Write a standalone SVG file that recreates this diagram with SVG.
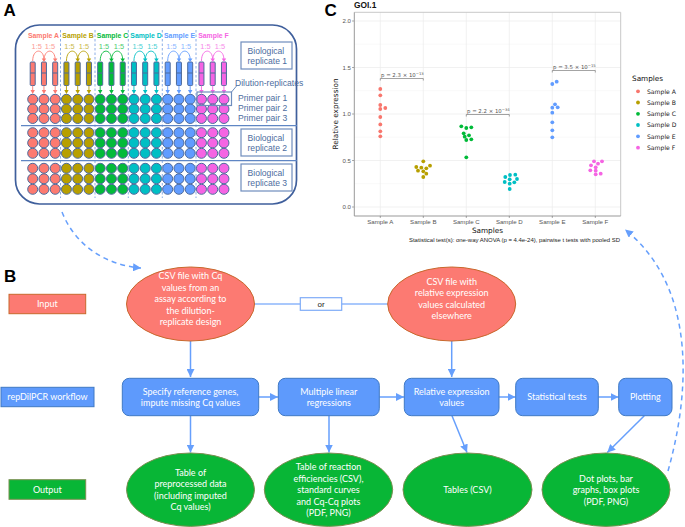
<svg xmlns="http://www.w3.org/2000/svg" xmlns:xlink="http://www.w3.org/1999/xlink" width="685" height="527" viewBox="0 0 685 527">
<style>
text{font-family:"Liberation Sans",Arial,sans-serif}
.let{font-size:17px;font-weight:bold;fill:#000}
.sl{font-size:6.9px;font-weight:bold;text-anchor:middle}
.dl{font-size:7.4px;text-anchor:middle;opacity:.75}
.rep{font-size:8.6px;fill:#4d6da0}
.w{stroke:#4d6a9c;stroke-width:1}
.sep{stroke:#6f9ae0;stroke-width:.8;stroke-dasharray:2.5 2;fill:none}
.div{stroke:#5f86c4;stroke-width:1.3}
.repbox{fill:#fff;stroke:#6f8dbd;stroke-width:1.2}
.fl{font-family:Lato,"Open Sans",sans-serif;font-size:9px;fill:#fff;text-anchor:middle}
.in{fill:#fc7a72;stroke:#c8682c;stroke-width:1}
.wf{fill:#5e9afc;stroke:#3f79c4;stroke-width:1}
.ou{fill:#08b636;stroke:#7a8f50;stroke-width:1}
.con{stroke:#669ffc;stroke-width:1.5;fill:none}
.dash{stroke:#669ffc;stroke-width:1.5;fill:none;stroke-dasharray:5 4}
.gr{stroke:#ebebeb;stroke-width:.7}
.gr2{stroke:#f3f3f3;stroke-width:.5}
.tk{font-family:"DejaVu Sans",sans-serif;font-size:6.1px;fill:#555}
.ax{font-family:"DejaVu Sans",sans-serif;font-size:7.3px;fill:#111}
.br{stroke:#666;stroke-width:.6;fill:none}
.pv{font-family:"DejaVu Sans",sans-serif;font-size:5.4px;fill:#555}
.leg{font-family:"DejaVu Sans",sans-serif;font-size:6.1px;fill:#222}
</style>
<defs>
<marker id="ah" markerUnits="userSpaceOnUse" markerWidth="9" markerHeight="8" refX="8" refY="4" orient="auto"><path d="M0,0L8,4L0,8Z" fill="#669ffc"/></marker>
<g id="block" class="w">
<circle cx="0" cy="99.3" r="5"/><circle cx="11.25" cy="99.3" r="5"/><circle cx="22.5" cy="99.3" r="5"/>
<circle cx="0" cy="109" r="5"/><circle cx="11.25" cy="109" r="5"/><circle cx="22.5" cy="109" r="5"/>
<circle cx="0" cy="118.5" r="5"/><circle cx="11.25" cy="118.5" r="5"/><circle cx="22.5" cy="118.5" r="5"/>
<circle cx="0" cy="132.7" r="5"/><circle cx="11.25" cy="132.7" r="5"/><circle cx="22.5" cy="132.7" r="5"/>
<circle cx="0" cy="142.9" r="5"/><circle cx="11.25" cy="142.9" r="5"/><circle cx="22.5" cy="142.9" r="5"/>
<circle cx="0" cy="153.3" r="5"/><circle cx="11.25" cy="153.3" r="5"/><circle cx="22.5" cy="153.3" r="5"/>
<circle cx="0" cy="168.3" r="5"/><circle cx="11.25" cy="168.3" r="5"/><circle cx="22.5" cy="168.3" r="5"/>
<circle cx="0" cy="178.8" r="5"/><circle cx="11.25" cy="178.8" r="5"/><circle cx="22.5" cy="178.8" r="5"/>
<circle cx="0" cy="189.3" r="5"/><circle cx="11.25" cy="189.3" r="5"/><circle cx="22.5" cy="189.3" r="5"/>
</g>
<g id="tubes">
<g fill="currentColor" stroke="#4d6a9c" stroke-width="1">
<rect x="-2.5" y="62" width="5" height="23.5" rx="1"/><path d="M-2.5,73H2.5"/>
<rect x="8.75" y="62" width="5" height="23.5" rx="1"/><path d="M8.75,73H13.75"/>
<rect x="20" y="62" width="5" height="23.5" rx="1"/><path d="M20,73H25"/>
</g>
<g fill="none" stroke="currentColor" stroke-width=".9">
<path d="M0,61C0,48 11.25,48 11.25,60"/><path d="M11.25,61C11.25,48 22.5,48 22.5,60"/>
<path d="M0,85.5V91M11.25,85.5V91M22.5,85.5V91"/>
</g>
<path fill="currentColor" d="M9,58.5H13.5L11.25,62ZM20.25,58.5H24.75L22.5,62ZM-2.2,90H2.2L0,94ZM9,90H13.5L11.25,94ZM20.25,90H24.75L22.5,94Z"/>
</g>
<circle id="pt" r="1.9"/>
</defs>
<rect width="685" height="527" fill="#fff"/>

<g id="panel-a">
<text class="let" x="3.5" y="15.5">A</text>
<rect x="15.5" y="25" width="281" height="179" rx="24" fill="none" stroke="#3f5f9c" stroke-width="1.7"/>
<path class="sep" d="M60.5,30V198M95,30V198M128.3,30V198M162.3,30V198M196,30V198"/>
<g id="plate">
<use xlink:href="#block" x="32.7" fill="#fc7a70"/>
<use xlink:href="#block" x="66.45" fill="#b79f00"/>
<use xlink:href="#block" x="100.2" fill="#04ba3a"/>
<use xlink:href="#block" x="133.95" fill="#00bfc4"/>
<use xlink:href="#block" x="167.7" fill="#619cff"/>
<use xlink:href="#block" x="201.45" fill="#f564e3"/>
</g>
<use xlink:href="#tubes" x="32.7" color="#fc7a70"/>
<use xlink:href="#tubes" x="66.45" color="#b79f00"/>
<use xlink:href="#tubes" x="100.2" color="#04ba3a"/>
<use xlink:href="#tubes" x="133.95" color="#00bfc4"/>
<use xlink:href="#tubes" x="167.7" color="#619cff"/>
<use xlink:href="#tubes" x="201.45" color="#f564e3"/>
<path class="div" d="M21,125.7H297M21,160.7H297"/>
<text class="sl" x="43.5" y="38" fill="#fc7a70">Sample A</text>
<text class="sl" x="78" y="38" fill="#b79f00">Sample B</text>
<text class="sl" x="112.5" y="38" fill="#04ba3a">Sample C</text>
<text class="sl" x="146" y="38" fill="#00bfc4">Sample D</text>
<text class="sl" x="179.5" y="38" fill="#619cff">Sample E</text>
<text class="sl" x="213.5" y="38" fill="#f564e3">Sample F</text>
<text class="dl" x="36.7" y="49" fill="#fc7a70">1:5</text><text class="dl" x="50" y="49" fill="#fc7a70">1:5</text>
<text class="dl" x="69.5" y="49" fill="#b79f00">1:5</text><text class="dl" x="84" y="49" fill="#b79f00">1:5</text>
<text class="dl" x="104" y="49" fill="#04ba3a">1:5</text><text class="dl" x="119" y="49" fill="#04ba3a">1:5</text>
<text class="dl" x="137.7" y="49" fill="#00bfc4">1:5</text><text class="dl" x="152.3" y="49" fill="#00bfc4">1:5</text>
<text class="dl" x="171.5" y="49" fill="#619cff">1:5</text><text class="dl" x="186" y="49" fill="#619cff">1:5</text>
<text class="dl" x="205.5" y="49" fill="#f564e3">1:5</text><text class="dl" x="220" y="49" fill="#f564e3">1:5</text>
<rect x="197" y="92" width="34.5" height="13.5" fill="none" stroke="#6f8dbd" stroke-width="1.2"/>
<path d="M231.5,92L236.5,86" stroke="#6f8dbd" fill="none"/>
<g id="rep1"><rect class="repbox" x="241" y="42" width="51" height="27"/><text class="rep" x="247.5" y="53.5">Biological</text><text class="rep" x="247.5" y="64">replicate 1</text></g>
<g id="rep2"><rect class="repbox" x="241" y="129" width="51" height="27"/><text class="rep" x="247.5" y="140.5">Biological</text><text class="rep" x="247.5" y="151">replicate 2</text></g>
<g id="rep3"><rect class="repbox" x="241" y="164" width="51" height="27"/><text class="rep" x="247.5" y="175.5">Biological</text><text class="rep" x="247.5" y="186">replicate 3</text></g>
<text class="rep" x="235" y="86">Dilution-replicates</text>
<text class="rep" x="238" y="101">Primer pair 1</text>
<text class="rep" x="238" y="111">Primer pair 2</text>
<text class="rep" x="238" y="120.5">Primer pair 3</text>
</g>

<g id="panel-c">
<text class="let" x="324.5" y="16">C</text>
<text x="354" y="8.2" font-family="DejaVu Sans,sans-serif" font-size="8.4" font-weight="bold" fill="#111">GOI.1</text>
<path class="gr2" d="M354,44.2H621M354,90.7H621M354,137.2H621M354,183.7H621"/>
<path class="gr" d="M354,21H621M354,67.5H621M354,114H621M354,160.5H621M354,207H621M380.3,12V216M423.3,12V216M466.3,12V216M509.3,12V216M552.3,12V216M595.3,12V216"/>
<path d="M354.3,12.3H620.7V216" fill="none" stroke="#c8c8c8" stroke-width="1"/>
<path d="M354.3,12.3V216H620.7" fill="none" stroke="#999" stroke-width="1"/>
<path d="M352,21H354M352,67.5H354M352,114H354M352,160.5H354M352,207H354M380.3,216V218M423.3,216V218M466.3,216V218M509.3,216V218M552.3,216V218M595.3,216V218" stroke="#555" stroke-width=".5"/>
<g class="tk" text-anchor="end"><text x="351" y="23.2">2.0</text><text x="351" y="69.7">1.5</text><text x="351" y="116.2">1.0</text><text x="351" y="162.7">0.5</text><text x="351" y="209.2">0.0</text></g>
<g class="tk" text-anchor="middle"><text x="380.3" y="224">Sample A</text><text x="423.3" y="224">Sample B</text><text x="466.3" y="224">Sample C</text><text x="509.3" y="224">Sample D</text><text x="552.3" y="224">Sample E</text><text x="595.3" y="224">Sample F</text></g>
<text class="ax" x="487.5" y="232.5" text-anchor="middle">Samples</text>
<text class="ax" transform="translate(338,114) rotate(-90)" text-anchor="middle">Relative expression</text>
<text x="409" y="241.5" font-family="DejaVu Sans,sans-serif" font-size="4.9" fill="#222" textLength="211" lengthAdjust="spacingAndGlyphs">Statistical test(s): one-way ANOVA (p = 4.4e-24), pairwise t tests with pooled SD</text>
<path class="br" d="M380.3,80.5V78.5H423.3V80.5M466.3,116.5V114.5H509.3V116.5M552.3,72.5V70.5H595.3V72.5"/>
<text class="pv" x="381" y="76.5">p = 2.3 × 10<tspan font-size="3.8" dy="-1.8">−13</tspan></text>
<text class="pv" x="467" y="113">p = 2.2 × 10<tspan font-size="3.8" dy="-1.8">−34</tspan></text>
<text class="pv" x="553" y="69">p = 3.5 × 10<tspan font-size="3.8" dy="-1.8">−15</tspan></text>
<g fill="#f8766d"><use xlink:href="#pt" x="380.3" y="89"/><use xlink:href="#pt" x="380.3" y="95.3"/><use xlink:href="#pt" x="380.3" y="105"/><use xlink:href="#pt" x="380.3" y="109"/><use xlink:href="#pt" x="385.3" y="108"/><use xlink:href="#pt" x="380.3" y="117"/><use xlink:href="#pt" x="380.3" y="124.4"/><use xlink:href="#pt" x="380.3" y="131.3"/><use xlink:href="#pt" x="380.3" y="136.3"/></g>
<g fill="#b79f00"><use xlink:href="#pt" x="423.3" y="161.3"/><use xlink:href="#pt" x="416.3" y="167"/><use xlink:href="#pt" x="418" y="170.7"/><use xlink:href="#pt" x="421.3" y="167.7"/><use xlink:href="#pt" x="423.3" y="171.3"/><use xlink:href="#pt" x="426.3" y="168.3"/><use xlink:href="#pt" x="430" y="165.7"/><use xlink:href="#pt" x="426.3" y="173.7"/><use xlink:href="#pt" x="423.3" y="177"/></g>
<g fill="#00ba38"><use xlink:href="#pt" x="461.3" y="126.3"/><use xlink:href="#pt" x="466.3" y="128"/><use xlink:href="#pt" x="471.3" y="127.3"/><use xlink:href="#pt" x="463.7" y="133.3"/><use xlink:href="#pt" x="469" y="135.3"/><use xlink:href="#pt" x="464.7" y="136.7"/><use xlink:href="#pt" x="466.3" y="140"/><use xlink:href="#pt" x="471.3" y="139.3"/><use xlink:href="#pt" x="466.3" y="157.3"/></g>
<g fill="#00bfc4"><use xlink:href="#pt" x="510" y="175"/><use xlink:href="#pt" x="515.3" y="174.7"/><use xlink:href="#pt" x="505.3" y="177"/><use xlink:href="#pt" x="509.7" y="179.3"/><use xlink:href="#pt" x="517" y="179"/><use xlink:href="#pt" x="504.7" y="182"/><use xlink:href="#pt" x="514.3" y="182.3"/><use xlink:href="#pt" x="509.7" y="183.7"/><use xlink:href="#pt" x="509.7" y="189"/></g>
<g fill="#619cff"><use xlink:href="#pt" x="556.7" y="81.7"/><use xlink:href="#pt" x="552.3" y="84"/><use xlink:href="#pt" x="555" y="104.3"/><use xlink:href="#pt" x="552.3" y="107.7"/><use xlink:href="#pt" x="557.7" y="107.3"/><use xlink:href="#pt" x="552.3" y="112.7"/><use xlink:href="#pt" x="552.3" y="122.3"/><use xlink:href="#pt" x="552.3" y="130.3"/><use xlink:href="#pt" x="552.3" y="137.3"/></g>
<g fill="#f564e3"><use xlink:href="#pt" x="594" y="161.3"/><use xlink:href="#pt" x="602" y="161.3"/><use xlink:href="#pt" x="598" y="163.7"/><use xlink:href="#pt" x="591" y="165.3"/><use xlink:href="#pt" x="595.7" y="167.3"/><use xlink:href="#pt" x="590.3" y="170.3"/><use xlink:href="#pt" x="595.7" y="170.7"/><use xlink:href="#pt" x="595.7" y="174.3"/><use xlink:href="#pt" x="600.7" y="173.7"/></g>
<g id="legend">
<text class="ax" x="632" y="81">Samples</text>
<use xlink:href="#pt" x="638" y="91.3" fill="#f8766d"/><text class="leg" x="647" y="93.5">Sample A</text>
<use xlink:href="#pt" x="638" y="102.5" fill="#b79f00"/><text class="leg" x="647" y="104.7">Sample B</text>
<use xlink:href="#pt" x="638" y="113.8" fill="#00ba38"/><text class="leg" x="647" y="116">Sample C</text>
<use xlink:href="#pt" x="638" y="125" fill="#00bfc4"/><text class="leg" x="647" y="127.2">Sample D</text>
<use xlink:href="#pt" x="638" y="136.3" fill="#619cff"/><text class="leg" x="647" y="138.5">Sample E</text>
<use xlink:href="#pt" x="638" y="147.7" fill="#f564e3"/><text class="leg" x="647" y="149.9">Sample F</text>
</g>
</g>

<text class="let" x="4" y="282">B</text>

<g id="connectors">
<path class="dash" d="M62,212C75,245 105,265 141,268" marker-end="url(#ah)"/>
<path class="dash" d="M668,471C688,400 700,290 625,229.5" marker-end="url(#ah)"/>
<path d="M254,304H388" stroke="#a9c8fc" stroke-width="1.8" fill="none"/>
<path class="con" d="M190.5,341V377" marker-end="url(#ah)"/>
<path class="con" d="M451.7,341V377" marker-end="url(#ah)"/>
<path class="con" d="M258.7,397H278" marker-end="url(#ah)"/>
<path class="con" d="M379.3,397H404" marker-end="url(#ah)"/>
<path class="con" d="M499,397H515.5" marker-end="url(#ah)"/>
<path class="con" d="M598.3,397H618.5" marker-end="url(#ah)"/>
<path class="con" d="M190.5,415.7V452.5" marker-end="url(#ah)"/>
<path class="con" d="M329,415.7V452.5" marker-end="url(#ah)"/>
<path class="con" d="M452,415.7L467,452.5" marker-end="url(#ah)"/>
<path class="con" d="M644.3,415.7L607.3,452.5" marker-end="url(#ah)"/>
</g>

<g id="legend-input"><rect class="in" x="9" y="294.3" width="76.7" height="19.4"/><text class="fl" x="47.3" y="307.3">Input</text></g>
<g id="legend-workflow"><rect class="wf" x="1" y="387.3" width="93" height="19.4"/><text class="fl" x="47.5" y="400">repDilPCR workflow</text></g>
<g id="legend-output"><rect class="ou" x="9" y="479.7" width="76.7" height="19.6"/><text class="fl" x="47.3" y="492.7">Output</text></g>

<g id="in-cq"><ellipse class="in" cx="190.5" cy="304" rx="64" ry="37"/>
<text class="fl" x="190.5" y="279">CSV file with Cq</text><text class="fl" x="190.5" y="290.5">values from an</text><text class="fl" x="190.5" y="302">assay according to</text><text class="fl" x="190.5" y="313.5">the dilution-</text><text class="fl" x="190.5" y="325">replicate design</text></g>
<g id="or-box"><rect x="300.3" y="297.7" width="41.4" height="12.6" fill="#fff" stroke="#7facf8" stroke-width="1.2"/><text x="321" y="307" font-family="Lato,sans-serif" font-size="8" fill="#222" text-anchor="middle">or</text></g>
<g id="in-rel"><ellipse class="in" cx="451.7" cy="304" rx="64" ry="37"/>
<text class="fl" x="451.7" y="284.5">CSV file with</text><text class="fl" x="451.7" y="296">relative expression</text><text class="fl" x="451.7" y="307.5">values calculated</text><text class="fl" x="451.7" y="319">elsewhere</text></g>

<g id="wf-ref"><rect class="wf" x="122.3" y="378.3" width="136.4" height="37.4" rx="7"/><text class="fl" x="190.5" y="394.5">Specify reference genes,</text><text class="fl" x="190.5" y="406">impute missing Cq values</text></g>
<g id="wf-mlr"><rect class="wf" x="278.3" y="378.3" width="101" height="37.4" rx="7"/><text class="fl" x="328.8" y="394.5">Multiple linear</text><text class="fl" x="328.8" y="406">regressions</text></g>
<g id="wf-rel"><rect class="wf" x="404.3" y="378.3" width="94.7" height="37.4" rx="7"/><text class="fl" x="451.7" y="394.5">Relative expression</text><text class="fl" x="451.7" y="406">values</text></g>
<g id="wf-stat"><rect class="wf" x="515.7" y="378.3" width="82.6" height="37.4" rx="7"/><text class="fl" x="557" y="400.2">Statistical tests</text></g>
<g id="wf-plot"><rect class="wf" x="618.7" y="378.3" width="53.3" height="37.4" rx="7"/><text class="fl" x="645.3" y="400.2">Plotting</text></g>

<g id="out-pre"><ellipse class="ou" cx="190.5" cy="489.7" rx="64" ry="36.7"/><text class="fl" x="190.5" y="475.5">Table of</text><text class="fl" x="190.5" y="487">preprocessed data</text><text class="fl" x="190.5" y="498.7">(including imputed</text><text class="fl" x="190.5" y="510.2">Cq values)</text></g>
<g id="out-eff"><ellipse class="ou" cx="328.5" cy="489.7" rx="64.2" ry="36.7"/><text class="fl" x="328.5" y="470">Table of reaction</text><text class="fl" x="328.5" y="481.5">efficiencies (CSV),</text><text class="fl" x="328.5" y="493">standard curves</text><text class="fl" x="328.5" y="504.5">and Cq-Cq plots</text><text class="fl" x="328.5" y="516">(PDF, PNG)</text></g>
<g id="out-tab"><ellipse class="ou" cx="467.5" cy="489.7" rx="64.5" ry="36.7"/><text class="fl" x="467.5" y="493">Tables (CSV)</text></g>
<g id="out-dot"><ellipse class="ou" cx="606" cy="489.7" rx="64" ry="36.7"/><text class="fl" x="606" y="481.5">Dot plots, bar</text><text class="fl" x="606" y="493">graphs, box plots</text><text class="fl" x="606" y="504.5">(PDF, PNG)</text></g>
</svg>
